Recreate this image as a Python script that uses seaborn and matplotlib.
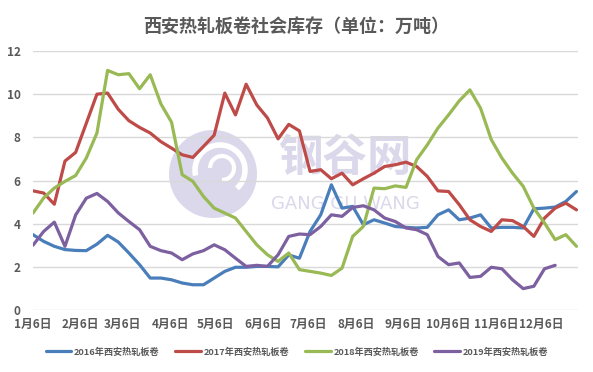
import numpy as np
import pandas as pd
import matplotlib
matplotlib.use("Agg")
import matplotlib.pyplot as plt
from matplotlib.patches import Ellipse, Arc
import seaborn as sns

# ---- data (weekly readings, week 0 = 1月6日) ----
s2016 = [3.49, 3.18, 2.95, 2.80, 2.76, 2.75, 3.05, 3.46, 3.15, 2.64,
         2.10, 1.48, 1.48, 1.40, 1.25, 1.17, 1.17, 1.48, 1.79, 1.98,
         1.98, 2.02, 2.02, 2.00, 2.55, 2.40, 3.64, 4.41, 5.80, 4.72,
         4.80, 3.95, 4.18, 4.03, 3.87, 3.83, 3.80, 3.83, 4.41, 4.64,
         4.18, 4.26, 4.41, 3.80, 3.83, 3.83, 3.80, 4.69, 4.72, 4.77,
         5.03, 5.49]
s2017 = [5.52, 5.42, 4.90, 6.90, 7.30, 8.65, 10.00, 10.05, 9.30, 8.77,
         8.46, 8.20, 7.80, 7.50, 7.19, 7.07, 7.58, 8.10, 10.05, 9.04,
         10.46, 9.50, 8.90, 7.93, 8.60, 8.30, 6.42, 6.50, 6.08, 6.34,
         5.80, 6.08, 6.34, 6.65, 6.73, 6.85, 6.65, 6.19, 5.52, 5.49,
         4.88, 4.18, 3.87, 3.64, 4.18, 4.14, 3.87, 3.41, 4.26, 4.72,
         4.95, 4.64]
s2018 = [4.49, 5.19, 5.65, 5.96, 6.23, 7.04, 8.20, 11.10, 10.90, 10.95,
         10.25, 10.90, 9.55, 8.70, 6.27, 5.96, 5.26, 4.72, 4.49, 4.26,
         3.64, 3.02, 2.56, 2.25, 2.64, 1.87, 1.79, 1.71, 1.60, 1.94,
         3.41, 3.87, 5.65, 5.62, 5.75, 5.68, 6.96, 7.65, 8.43, 9.04,
         9.69, 10.20, 9.35, 7.90, 7.04, 6.34, 5.73, 4.72, 4.03, 3.26,
         3.49, 2.95]
s2019 = [3.00, 3.64, 4.07, 2.95, 4.40, 5.18, 5.40, 5.03, 4.50, 4.10,
         3.72, 2.95, 2.75, 2.64, 2.33, 2.60, 2.75, 3.02, 2.79, 2.40,
         2.02, 2.07, 2.02, 2.56, 3.41, 3.52, 3.49, 3.87, 4.41, 4.34,
         4.75, 4.83, 4.64, 4.26, 4.10, 3.80, 3.72, 3.49, 2.48, 2.10,
         2.18, 1.51, 1.56, 1.98, 1.91, 1.40, 0.99, 1.10, 1.91, 2.07]

series_names = ["2016年西安热轧板卷", "2017年西安热轧板卷", "2018年西安热轧板卷", "2019年西安热轧板卷"]
series_vals = [s2016, s2017, s2018, s2019]
colors = ["#4A7EBB", "#BE4B48", "#98B954", "#7D60A0"]

tick_labels = ["1月6日", "2月6日", "3月6日", "4月6日", "5月6日", "6月6日",
               "7月6日", "8月6日", "9月6日", "10月6日", "11月6日", "12月6日"]
tick_days = [0, 31, 59, 90, 120, 151, 181, 212, 243, 273, 304, 334]

rows = []
for name, vals in zip(series_names, series_vals):
    for i, v in enumerate(vals):
        rows.append({"day": i * 7, "value": v, "series": name})
df = pd.DataFrame(rows)

sns.set_theme(style="white")
plt.rcParams["font.family"] = ["Noto Sans CJK SC", "DejaVu Sans"]

W, H = 593, 372
fig = plt.figure(figsize=(W / 100, H / 100), dpi=100)
ax = fig.add_axes([33 / W, 1 - 310 / H, (578 - 33) / W, (310 - 51) / H])

# watermark (behind grid and lines)
wm = "#DAD8EA"
tf = fig.transFigure
ax.add_patch(Ellipse((213 / W, 1 - 174 / H), 88 / W, 88 / H, transform=tf,
                     facecolor=wm, edgecolor="none", zorder=0.1, clip_on=False))
ax.add_patch(Arc((220 / W, 1 - 170 / H), 50 / W, 50 / H, theta1=-60, theta2=200, transform=tf,
                 edgecolor="white", lw=4, zorder=0.15, clip_on=False))
ax.add_patch(Arc((222 / W, 1 - 168 / H), 24 / W, 24 / H, theta1=-90, theta2=180, transform=tf,
                 edgecolor="white", lw=3, zorder=0.15, clip_on=False))
ax.text(345 / W, 1 - 158 / H, "钢谷网", ha="center", va="center", fontsize=32,
        fontweight="bold", color=wm, zorder=0.1, transform=tf)
ax.text(345 / W, 1 - 204 / H, "GANG GU WANG", ha="center", va="center", fontsize=13,
        color=wm, zorder=0.1, transform=tf, family="DejaVu Sans")

sns.lineplot(data=df, x="day", y="value", hue="series", palette=colors,
             hue_order=series_names, linewidth=2.3, ax=ax, legend=True)
for ln in ax.lines:
    ln.set_zorder(3)
    ln.set_solid_joinstyle("round")
    ln.set_solid_capstyle("round")

ax.set_xlim(0, 358)
ax.set_ylim(0, 12)
ax.set_yticks([0, 2, 4, 6, 8, 10, 12])
ax.set_xticks(tick_days)
ax.set_xticklabels(tick_labels)
ax.set_xlabel("")
ax.set_ylabel("")
ax.grid(axis="y", color="#D9D9D9", linewidth=1)
ax.grid(axis="x", visible=False)
ax.set_axisbelow(True)
for s in ax.spines.values():
    s.set_visible(False)
ax.tick_params(axis="both", length=0, labelsize=8.5, labelcolor="#595959")
ax.tick_params(axis="y", pad=9)
ax.tick_params(axis="x", pad=6)
for lab in ax.get_xticklabels() + ax.get_yticklabels():
    lab.set_fontweight("bold")

handles, labels = ax.get_legend_handles_labels()
ax.legend_.remove()
leg = fig.legend(handles, labels, loc="center", bbox_to_anchor=(297 / W, 1 - 352 / H),
                 ncol=4, frameon=False, fontsize=6.6, handlelength=2.8,
                 handletextpad=0.3, columnspacing=1.7)
for t in leg.get_texts():
    t.set_color("#595959")
    t.set_fontweight("bold")
for l in leg.get_lines():
    l.set_linewidth(2.3)

fig.text(0.5, 1 - 26 / H, "西安热轧板卷社会库存（单位：万吨）", ha="center", va="center",
         fontsize=13, fontweight="bold", color="#595959")

fig.savefig("out.png", dpi=100, facecolor="white")
